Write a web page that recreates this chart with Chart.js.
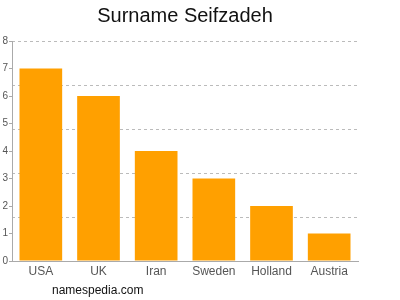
<!DOCTYPE html>
<html>
<head>
<meta charset="utf-8">
<script src="https://cdn.jsdelivr.net/npm/chart.js@4"></script>
<style>
  html, body { margin: 0; padding: 0; background: #fff; }
  #wrap { width: 400px; height: 300px; }
</style>
</head>
<body>
<div id="wrap"><canvas id="barChart" width="400" height="300"></canvas></div>
<script>
// data
var countries = ["USA", "UK", "Iran", "Sweden", "Holland", "Austria"];
var counts = [7, 6, 4, 3, 2, 1];
var yMax = 8;

// small plugin for the site name under the chart
var watermark = {
    id: "watermark",
    afterDraw: function (chart) {
        var ctx = chart.ctx;
        ctx.save();
        ctx.font = "12px 'Liberation Sans', Arial, sans-serif";
        ctx.fillStyle = "#111";
        ctx.textBaseline = "middle";
        ctx.fillText("namespedia.com", 52, 291);
        ctx.restore();
    }
};

const CHART = document.getElementById("barChart");

let barChart = new Chart(CHART, {
    type: 'bar',
    data: {
        labels: countries,
        datasets: [
            {
                label: "Surname count",
                data: counts,
                backgroundColor: "#ffa000",
                borderWidth: 0,
                categoryPercentage: 1,
                barPercentage: 0.74
            }
        ]
    },
    options: {
        responsive: false,
        animation: false,
        layout: { padding: { left: 0, right: 42, top: 0, bottom: 0 } },
        plugins: {
            legend: { display: false },
            tooltip: { enabled: false },
            title: {
                display: true,
                text: "Surname Seifzadeh",
                fullSize: false,
                color: "#111",
                font: { family: "'Liberation Sans', Arial, sans-serif", size: 20, weight: 'normal' },
                padding: { top: 4, bottom: 13 }
            }
        },
        scales: {
            x: {
                grid: { display: false },
                border: { color: "#aaa" },
                ticks: {
                    color: "#555",
                    font: { family: "'Liberation Sans', Arial, sans-serif", size: 12 },
                    padding: -5
                },
                afterFit: function (s) { s.height = 39; }
            },
            y: {
                min: 0,
                max: yMax,
                grid: { drawOnChartArea: false, drawTicks: true, tickLength: 3, color: "#aaa" },
                border: { color: "#aaa" },
                ticks: {
                    stepSize: 1,
                    color: "#555",
                    font: { family: "'Liberation Sans', Arial, sans-serif", size: 10 },
                    padding: 1
                },
                afterFit: function (s) { s.width = 12; }
            },
            yGrid: {
                position: 'left',
                min: 0,
                max: yMax,
                grid: { color: "#bbb", drawTicks: false },
                border: { display: false, dash: [3, 3] },
                ticks: { display: false, stepSize: 1.6 },
                afterFit: function (s) { s.width = 0; }
            }
        }
    },
    plugins: [watermark]
});
</script>
</body>
</html>
